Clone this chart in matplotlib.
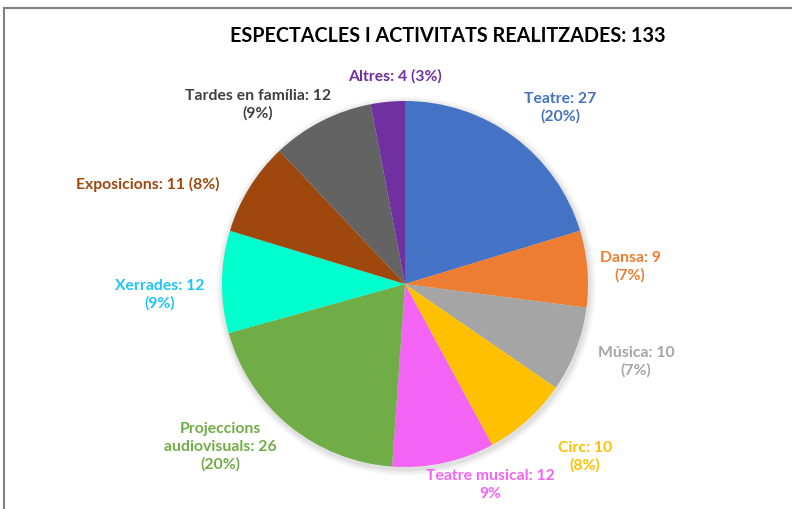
import matplotlib.pyplot as plt
from matplotlib.lines import Line2D

plt.rcParams['font.family'] = ['Lato', 'DejaVu Sans']

categories = ['Teatre', 'Dansa', 'Música', 'Circ', 'Teatre musical',
              'Projeccions audiovisuals', 'Xerrades', 'Exposicions',
              'Tardes en família', 'Altres']
values = [27, 9, 10, 10, 12, 26, 12, 11, 12, 4]
label_text = ['Teatre: 27\n(20%)', 'Dansa: 9\n(7%)', 'Música: 10\n(7%)', 'Circ: 10\n(8%)',
              'Teatre musical: 12\n9%', 'Projeccions\naudiovisuals: 26\n(20%)',
              'Xerrades: 12\n(9%)', 'Exposicions: 11 (8%)', 'Tardes en família: 12\n(9%)',
              'Altres: 4 (3%)']

wedge_colors = ['#4472C4', '#ED7D31', '#A5A5A5', '#FFC000', '#F364F5',
                '#70AD47', '#00FFCC', '#9E480E', '#636363', '#7030A0']
text_colors = ['#4472C4', '#ED7D31', '#A5A5A5', '#FFC000', '#F364F5',
               '#70AD47', '#1EC3FF', '#9E480E', '#404040', '#7030A0']

# label centres in pixels (x, y from top)
label_px = [(560, 108), (630, 267), (636, 362), (585, 457), (490, 485),
            (220, 447), (160, 295), (148, 184), (258, 105), (395, 76)]

W, H = 792, 509
cx, cy, R = 405, 284, 183  # pie centre and radius in pixels

fig = plt.figure(figsize=(W / 100, H / 100), dpi=100)
ax = fig.add_axes([0, 0, 1, 1])

# soft shadow behind the pie
for i, a in enumerate([0.05, 0.04, 0.03]):
    ax.add_patch(plt.Circle((0.006, -0.012), 1.0 + 0.012 * (i + 1), color='black', alpha=a, lw=0, zorder=0))

ax.pie(values, colors=wedge_colors, startangle=90, counterclock=False,
       radius=1.0, center=(0, 0), frame=True,
       wedgeprops=dict(linewidth=0, zorder=1))
ax.set_xlim(-cx / R, (W - cx) / R)
ax.set_ylim(-(H - cy) / R, cy / R)
ax.set_aspect('equal')
ax.axis('off')

for txt, col, (px, py) in zip(label_text, text_colors, label_px):
    ax.text((px - cx) / R, (cy - py) / R, txt, color=col, fontsize=11.3,
            fontweight='bold', ha='center', va='center', linespacing=1.3)

fig.text(448 / W, 1 - 36 / H, 'ESPECTACLES I ACTIVITATS REALITZADES: 133',
         fontsize=14.2, fontweight='bold', color='black', ha='center', va='center')

# frame lines at top and left
fig.add_artist(Line2D([4 / W, 1], [1 - 8 / H, 1 - 8 / H], color='#808080', lw=1.5))
fig.add_artist(Line2D([4 / W, 4 / W], [0, 1 - 8 / H], color='#808080', lw=1.5))

fig.savefig('out.png', dpi=100)
